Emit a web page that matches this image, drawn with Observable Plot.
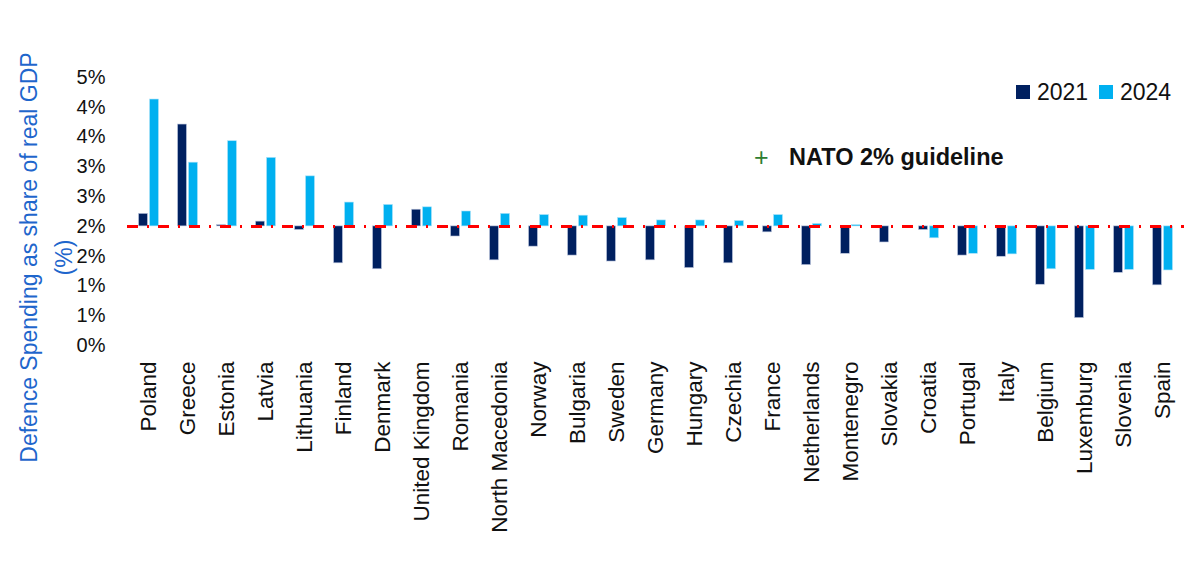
<!DOCTYPE html>
<html>
<head>
<meta charset="utf-8">
<script src="https://cdn.jsdelivr.net/npm/d3@7"></script>
<script src="https://cdn.jsdelivr.net/npm/@observablehq/plot@0.6"></script>
<style>
  html, body { margin: 0; padding: 0; background: #fff; }
  #wrap { position: relative; width: 1200px; height: 578px; font-family: "Liberation Sans", Arial, sans-serif; }
  .abs { position: absolute; white-space: nowrap; color: #111; line-height: 1; }
  .sw { position: absolute; width: 14px; height: 14px; }
</style>
</head>
<body>
<div id="wrap">
  <div id="chart"></div>
  <span class="sw" style="left:1016px; top:85px; background:#002060"></span>
  <span class="abs" style="left:1037px; top:81px; font-size:23px;">2021</span>
  <span class="sw" style="left:1099px; top:85px; background:#00B0F0"></span>
  <span class="abs" style="left:1120px; top:81px; font-size:23px;">2024</span>
  <span class="abs" style="left:754px; top:145px; font-size:25px; color:#2E7D32;">+</span>
  <span class="abs" style="left:789px; top:146px; font-size:23.5px; font-weight:bold;">NATO 2% guideline</span>
</div>
<script>
const countries = ["Poland","Greece","Estonia","Latvia","Lithuania","Finland","Denmark","United Kingdom","Romania","North Macedonia","Norway","Bulgaria","Sweden","Germany","Hungary","Czechia","France","Netherlands","Montenegro","Slovakia","Croatia","Portugal","Italy","Belgium","Luxemburg","Slovenia","Spain"];
const v2021 = [2.21, 3.71, 2.02, 2.08, 1.94, 1.38, 1.28, 2.28, 1.83, 1.43, 1.66, 1.51, 1.41, 1.43, 1.30, 1.38, 1.90, 1.35, 1.54, 1.73, 1.94, 1.51, 1.49, 1.02, 0.46, 1.22, 1.01];
const v2024 = [4.13, 3.07, 3.43, 3.15, 2.84, 2.40, 2.36, 2.32, 2.25, 2.21, 2.19, 2.18, 2.14, 2.10, 2.10, 2.09, 2.19, 2.04, 2.02, 2.00, 1.80, 1.54, 1.53, 1.28, 1.27, 1.27, 1.26];
const yTicks = [0, 0.5, 1, 1.5, 2, 2.5, 3, 3.5, 4, 4.5];
const guideline = 2;
const yTitle = "Defence Spending as share of real GDP\n(%)";

const d21 = countries.map((c, i) => ({country: c, value: v2021[i]}));
const d24 = countries.map((c, i) => ({country: c, value: v2024[i]}));

const chart = Plot.plot({
  width: 1200,
  height: 578,
  marginLeft: 127,
  marginRight: 16,
  marginTop: 77,
  marginBottom: 233,
  style: {fontFamily: "'Liberation Sans', Arial, sans-serif", background: "#fff"},
  x: {domain: countries, padding: 0, label: null},
  y: {domain: [0, 4.5], label: null},
  marks: [
    Plot.barY(d21, {x: "country", y1: () => guideline, y2: "value", fill: "#002060", stroke: "#b9c3dc", strokeWidth: 0.6, insetLeft: 15.06, insetRight: 15.06, dx: -5.5}),
    Plot.barY(d24, {x: "country", y1: () => guideline, y2: "value", fill: "#00B0F0", stroke: "#a8e2f8", strokeWidth: 0.6, insetLeft: 15.06, insetRight: 15.06, dx: 5.5}),
    Plot.ruleY([guideline], {stroke: "#FF0000", strokeWidth: 3, strokeDasharray: "11,9,2,9"}),
    Plot.axisY({ticks: yTicks, tickFormat: d => Math.round(d) + "%", tickSize: 0, tickPadding: 22, fontSize: 20, fill: "#111", label: null}),
    Plot.axisX({tickRotate: -90, tickSize: 0, tickPadding: 16, fontSize: 22.5, fill: "#111", label: null}),
    Plot.text([yTitle], {frameAnchor: "left", rotate: -90, dx: -84, dy: 46, fill: "#1F66CC", fontSize: 23, lineHeight: 1.5, textAnchor: "middle", lineAnchor: "middle"})
  ]
});
document.getElementById("chart").appendChild(chart);
</script>
</body>
</html>
